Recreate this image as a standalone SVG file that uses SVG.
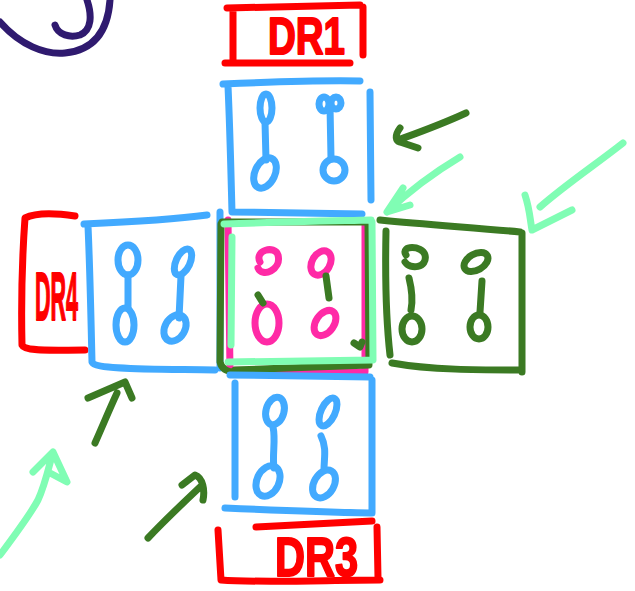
<svg xmlns="http://www.w3.org/2000/svg" width="635" height="591" viewBox="0 0 635 591">
<style>
.s{fill:none;stroke-width:7;stroke-linecap:round;stroke-linejoin:round}
.red{stroke:#ff0000}.blue{stroke:#42aaff}.dg{stroke:#3b7a23}.lg{stroke:#80fdb4}.pk{stroke:#ff2aa6}.pu{stroke:#2f1a6f}
.lbl{font-family:"Liberation Sans",Arial,sans-serif;font-weight:bold;fill:#ff0000;stroke:#ff0000;stroke-width:2;stroke-linejoin:round}
</style>
<rect width="635" height="591" fill="#ffffff"/>
<g id="mark">
<path class="s pu" d="M0,22 C20,45 45,55 65,53 C95,50 108,30 110,0"/>
<path class="s pu" d="M55,25 C58,35 70,38 80,35 C92,30 92,15 87,0"/>
</g>
<g id="dr1">
<path class="s red" d="M227,8 L360,5 M233,10 L233,62 M363,7 L363,55 M225,63 L350,63"/>
<text class="lbl" x="268" y="54" font-size="52" textLength="77" lengthAdjust="spacingAndGlyphs">DR1</text>
</g>
<g id="top-box">
<path class="s blue" d="M223,84 C270,82 320,80 360,81 M228,86 C230,130 231,175 232,212 L362,214 M370,92 L371,200"/>
<ellipse class="s blue" cx="266" cy="108" rx="6" ry="14"/>
<path class="s blue" d="M265,122 L266,160"/>
<ellipse class="s blue" cx="265" cy="173" rx="10" ry="16" transform="rotate(25 265 173)"/>
<ellipse class="s blue" cx="324" cy="104" rx="5" ry="7"/>
<ellipse class="s blue" cx="336" cy="103" rx="5" ry="6"/>
<path class="s blue" d="M330,106 L331,158"/>
<circle class="s blue" cx="334" cy="170" r="11"/>
</g>
<g id="dr4">
<path class="s red" d="M75,216 C55,213 35,213 25,218 C22,260 21,300 22,345 C25,352 55,350 85,350"/>
<text class="lbl" x="35" y="320" font-size="68" textLength="43" lengthAdjust="spacingAndGlyphs">DR4</text>
</g>
<g id="left-box">
<path class="s blue" d="M84,224 C130,222 170,220 207,215 M88,226 C90,270 91,320 92,362 C95,370 150,369 215,370 M220,212 L220,368"/>
<ellipse class="s blue" cx="128" cy="260" rx="10" ry="15"/>
<path class="s blue" d="M128,275 L128,308"/>
<ellipse class="s blue" cx="125" cy="325" rx="9" ry="17"/>
<ellipse class="s blue" cx="183" cy="262" rx="7" ry="14" transform="rotate(25 183 262)"/>
<path class="s blue" d="M181,276 L179,318"/>
<ellipse class="s blue" cx="175" cy="328" rx="10" ry="14" transform="rotate(30 175 328)"/>
</g>
<g id="center-box">
<path class="s pk" d="M228,220 L230,370 L365,372 L365,225"/>
<path class="s dg" d="M222,222 L368,222 L369,365 L235,370 M221,224 L220,362 C222,370 228,372 235,372"/>
<path class="s lg" d="M224,224 C280,222 330,221 371,220 M372,222 L373,360 L228,362 M232,237 L231,345"/>
<path class="s pk" d="M260,262 C254,250 275,245 278,255 C282,270 262,278 258,268"/>
<ellipse class="s pk" cx="321" cy="263" rx="9" ry="13" transform="rotate(30 321 263)"/>
<ellipse class="s pk" cx="267" cy="323" rx="12" ry="19"/>
<ellipse class="s pk" cx="325" cy="323" rx="9" ry="14" transform="rotate(35 325 323)"/>
<path class="s dg" d="M258,295 L263,303 M326,276 L329,298 M354,343 L360,347 L362,342"/>
</g>
<g id="right-box">
<path class="s dg" d="M380,220 C430,225 480,228 520,232 M386,231 C385,280 386,320 390,355 M522,233 L522,372 M392,363 C430,370 480,370 522,370"/>
<path class="s dg" d="M406,255 C400,245 422,245 425,255 C428,268 410,270 405,262"/>
<path class="s dg" d="M409,278 C412,290 413,300 411,310"/>
<ellipse class="s dg" cx="412" cy="329" rx="10" ry="13"/>
<ellipse class="s dg" cx="476" cy="262" rx="13" ry="8" transform="rotate(-30 476 262)"/>
<path class="s dg" d="M482,281 L480,312"/>
<ellipse class="s dg" cx="479" cy="327" rx="9" ry="12"/>
</g>
<g id="bottom-box">
<path class="s blue" d="M230,375 L370,377 M235,383 L235,497 M372,380 L372,513 M225,508 C270,510 320,512 370,513"/>
<ellipse class="s blue" cx="275" cy="411" rx="9" ry="14" transform="rotate(15 275 411)"/>
<path class="s blue" d="M273,427 C276,440 272,455 274,468"/>
<ellipse class="s blue" cx="268" cy="481" rx="11" ry="16" transform="rotate(25 268 481)"/>
<ellipse class="s blue" cx="328" cy="412" rx="7" ry="15" transform="rotate(25 328 412)"/>
<path class="s blue" d="M321,436 C327,448 324,458 324,470"/>
<ellipse class="s blue" cx="324" cy="484" rx="10" ry="15" transform="rotate(30 324 484)"/>
</g>
<g id="dr3">
<path class="s red" d="M256,527 C300,525 340,523 372,521 M218,530 L221,580 C260,583 330,580 380,580 M377,527 L378,578"/>
<text class="lbl" x="275" y="576" font-size="56" textLength="83" lengthAdjust="spacingAndGlyphs">DR3</text>
</g>
<g id="connectors">
<path class="s dg" d="M466,113 C440,125 420,132 398,140 M400,128 C394,136 396,141 400,142 L418,148"/>
<path class="s lg" d="M460,157 C430,175 405,195 387,212 M403,188 L387,212 L410,205"/>
<path class="s lg" d="M623,143 C595,165 565,185 540,207 M525,195 C530,210 530,220 532,230 L572,210"/>
<path class="s dg" d="M95,443 C103,425 110,408 117,393 M88,398 L125,382 L132,398"/>
<path class="s dg" d="M148,538 C165,520 183,503 200,487 M182,485 L195,475 C203,478 205,490 203,500"/>
<path class="s lg" d="M0,555 C15,535 30,515 38,500 C45,485 48,470 53,452 M33,472 L53,452 L67,482 L50,473"/>
</g>
</svg>
